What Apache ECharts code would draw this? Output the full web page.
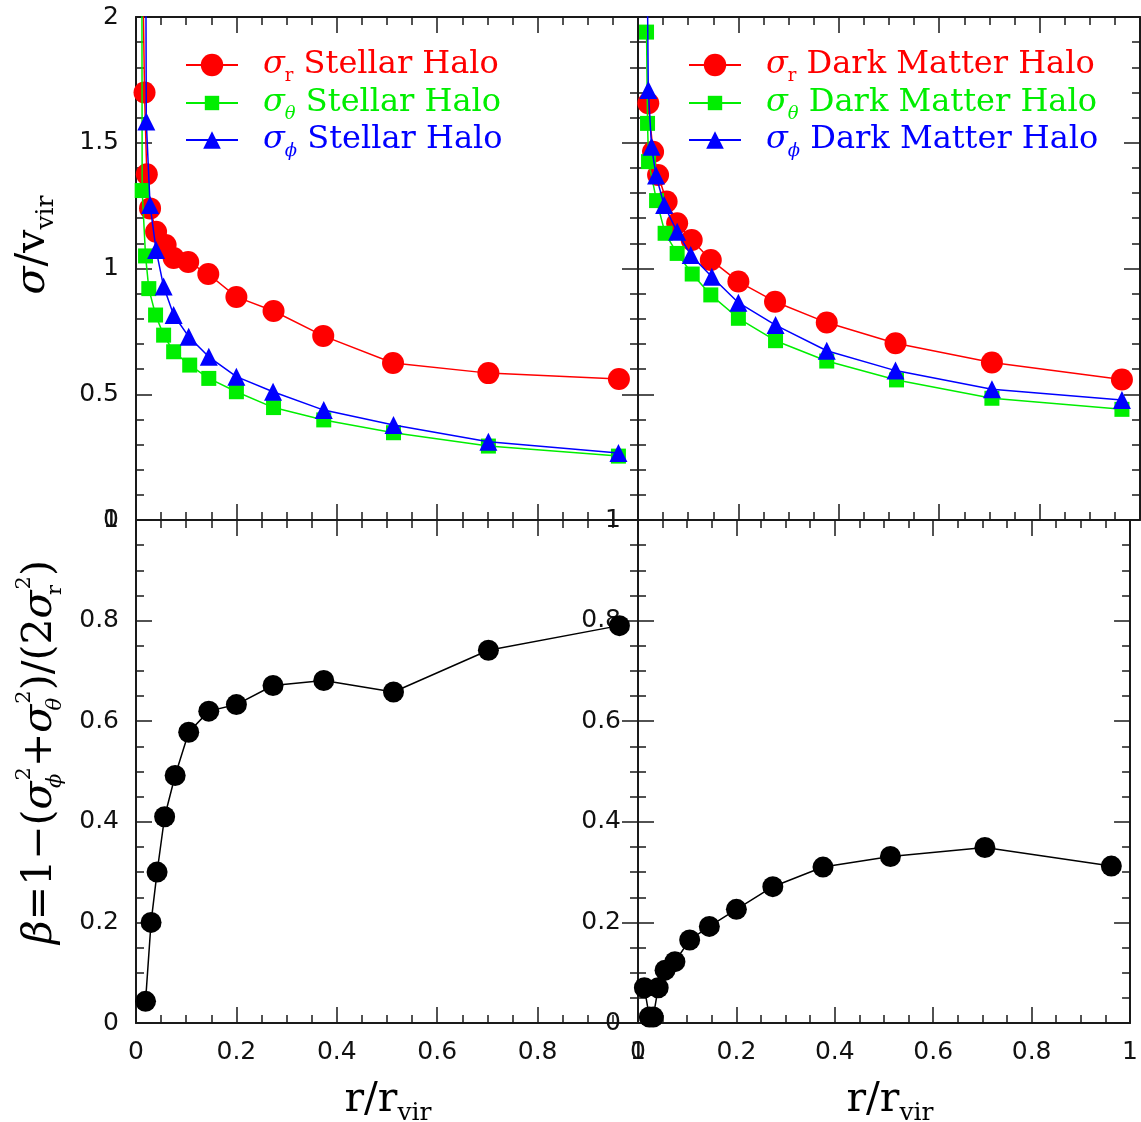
<!DOCTYPE html>
<html><head><meta charset="utf-8">
<script src="https://cdn.jsdelivr.net/npm/echarts@6/dist/echarts.min.js"></script>
<style>html,body{margin:0;padding:0;background:#fff}#c{width:1141px;height:1122px}</style>
</head><body><div id="c"></div>
<script>
// ---------- Data ----------
// Top-left: stellar halo velocity dispersions (sigma / v_vir)
const xStR  = [0.012, 0.017, 0.0215, 0.028, 0.040, 0.059, 0.075, 0.104, 0.144, 0.200, 0.274, 0.373, 0.512, 0.702, 0.962];
const stR   = [2.40, 1.70, 1.375, 1.239, 1.146, 1.093, 1.042, 1.026, 0.978, 0.887, 0.831, 0.732, 0.624, 0.584, 0.561];
const xStT  = [0.0115, 0.0123, 0.019, 0.0255, 0.039, 0.055, 0.075, 0.107, 0.145, 0.200, 0.274, 0.374, 0.513, 0.702, 0.961];
const stT   = [2.60, 1.31, 1.05, 0.92, 0.815, 0.735, 0.669, 0.616, 0.563, 0.510, 0.447, 0.398, 0.347, 0.294, 0.254];
const xStP  = [0.019, 0.0205, 0.028, 0.040, 0.055, 0.075, 0.105, 0.145, 0.200, 0.273, 0.374, 0.513, 0.702, 0.961];
const stP   = [2.60, 1.584, 1.252, 1.074, 0.928, 0.815, 0.729, 0.649, 0.570, 0.510, 0.437, 0.378, 0.311, 0.266];
// Top-right: dark matter halo velocity dispersions
const xDmR  = [0.0205, 0.030, 0.040, 0.057, 0.078, 0.107, 0.145, 0.200, 0.273, 0.376, 0.513, 0.705, 0.964];
const dmR   = [1.657, 1.464, 1.372, 1.266, 1.18, 1.113, 1.034, 0.948, 0.868, 0.785, 0.703, 0.626, 0.559];
const xDmT  = [0.017, 0.019, 0.021, 0.037, 0.054, 0.078, 0.108, 0.145, 0.200, 0.274, 0.376, 0.515, 0.705, 0.964];
const dmT   = [1.94, 1.577, 1.425, 1.27, 1.14, 1.06, 0.978, 0.895, 0.802, 0.713, 0.632, 0.557, 0.484, 0.440];
const xDmP  = [0.017, 0.0205, 0.027, 0.036, 0.052, 0.078, 0.105, 0.147, 0.200, 0.274, 0.376, 0.513, 0.705, 0.964];
const dmP   = [2.50, 1.71, 1.484, 1.37, 1.252, 1.146, 1.054, 0.967, 0.864, 0.775, 0.673, 0.594, 0.520, 0.477];
// Bottom: anisotropy beta
const xBetaSt = [0.019, 0.030, 0.042, 0.057, 0.078, 0.105, 0.145, 0.200, 0.273, 0.374, 0.513, 0.702, 0.963];
const betaSt  = [0.043, 0.200, 0.300, 0.410, 0.492, 0.578, 0.620, 0.633, 0.671, 0.681, 0.658, 0.741, 0.790];
const xBetaDm = [0.013, 0.023, 0.031, 0.041, 0.055, 0.075, 0.105, 0.145, 0.200, 0.274, 0.376, 0.513, 0.705, 0.962];
const betaDm  = [0.070, 0.012, 0.012, 0.070, 0.105, 0.122, 0.165, 0.192, 0.226, 0.271, 0.310, 0.331, 0.349, 0.312];
// Axis ranges / ticks
const xRange = [0, 1], xStep = 0.2;
const sigRange = [0, 2], sigStep = 0.5;
const betaRange = [0, 1], betaStep = 0.2;

// ---------- Helpers ----------
const pts = (xs, ys) => xs.map((x, i) => [x, ys[i]]);
const AX = '#1a1a1a';
const labelFont = {fontFamily: 'DejaVu Sans', fontSize: 25, color: '#111', margin: 17};

function axisCommon(min, max, step, minorSplit) {
  return {
    type: 'value', min, max, interval: step,
    axisLine: {show: true, onZero: false, lineStyle: {color: AX, width: 2}},
    axisTick: {show: true, inside: true, length: 16, lineStyle: {color: AX, width: 1.5}},
    minorTick: {show: true, splitNumber: minorSplit, length: 8, lineStyle: {color: AX, width: 1.5}},
    splitLine: {show: false}, minorSplitLine: {show: false}
  };
}
function mkX(grid, showLabel) {
  return [
    Object.assign(axisCommon(xRange[0], xRange[1], xStep, 4), {gridIndex: grid, position: 'bottom',
      axisLabel: Object.assign({show: showLabel, showMinLabel: true, showMaxLabel: true}, labelFont)}),
    Object.assign(axisCommon(xRange[0], xRange[1], xStep, 4), {gridIndex: grid, position: 'top', axisLabel: {show: false}})
  ];
}
function mkY(grid, range, step, minor, showLabel) {
  return [
    Object.assign(axisCommon(range[0], range[1], step, minor), {gridIndex: grid, position: 'left',
      axisLabel: Object.assign({show: showLabel, showMinLabel: true, showMaxLabel: true}, labelFont)}),
    Object.assign(axisCommon(range[0], range[1], step, minor), {gridIndex: grid, position: 'right', axisLabel: {show: false}})
  ];
}
function line(name, data, ax, color, symbol, size, z) {
  return {type: 'line', name, data, xAxisIndex: ax, yAxisIndex: ax, symbol, symbolSize: size,
    showSymbol: true, clip: true, z,
    itemStyle: {color}, lineStyle: {color, width: 1.5}, emphasis: {disabled: true}};
}
const RED = '#ff0000', GREEN = '#00ee00', BLUE = '#0000ff';
function legendItem(name, left, top, ih, color, sub, subItalic, label) {
  return {
    data: [name], left, top, padding: 0, itemWidth: 52, itemHeight: ih, selectedMode: false,
    formatter: () => '{g| }{s|σ}{b|' + sub + '}{t| ' + label + '}',
    textStyle: {color, rich: {
      g: {width: 20, fontSize: 30},
      s: {fontFamily: 'DejaVu Serif', fontStyle: 'italic', fontSize: 32, color, lineHeight: 40},
      b: {fontFamily: 'DejaVu Serif', fontStyle: subItalic ? 'italic' : 'normal', fontSize: 18, color, verticalAlign: 'bottom', lineHeight: 18},
      t: {fontFamily: 'DejaVu Serif', fontSize: 32, color, lineHeight: 40}
    }}
  };
}

const serif = 'DejaVu Serif';
const titleRich = {
  m: {fontFamily: serif, fontSize: 41, color: '#111', lineHeight: 52},
  mi: {fontFamily: serif, fontStyle: 'italic', fontSize: 41, color: '#111', lineHeight: 52},
  b: {fontFamily: serif, fontSize: 25, color: '#111', verticalAlign: 'bottom', lineHeight: 25},
  sb: {fontFamily: serif, fontStyle: 'italic', fontSize: 21, color: '#111', verticalAlign: 'bottom', lineHeight: 21, width: 1},
  sbr: {fontFamily: serif, fontSize: 21, color: '#111', verticalAlign: 'bottom', lineHeight: 21, width: 1},
  sp: {fontFamily: serif, fontSize: 21, color: '#111', verticalAlign: 'top', lineHeight: 21}
};

const option = {
  animation: false,
  backgroundColor: '#fff',
  grid: [
    {left: 136, top: 17, width: 502, height: 503},
    {left: 638, top: 17, width: 502, height: 503},
    {left: 136, top: 520, width: 502, height: 503},
    {left: 638, top: 520, width: 502, height: 503}
  ],
  xAxis: [...mkX(0, false), ...mkX(1, false), ...mkX(2, true), ...mkX(3, true)],
  yAxis: [...mkY(0, sigRange, sigStep, 5, true), ...mkY(1, sigRange, sigStep, 5, false),
          ...mkY(2, betaRange, betaStep, 4, true), ...mkY(3, betaRange, betaStep, 4, true)],
  legend: [
    legendItem('sr_st', 185, 49, 28, RED, 'r', false, 'Stellar Halo'),
    legendItem('st_st', 185, 87, 18, GREEN, 'θ', true, 'Stellar Halo'),
    legendItem('sp_st', 185, 124, 22, BLUE, 'ϕ', true, 'Stellar Halo'),
    legendItem('sr_dm', 688, 49, 28, RED, 'r', false, 'Dark Matter Halo'),
    legendItem('st_dm', 688, 87, 18, GREEN, 'θ', true, 'Dark Matter Halo'),
    legendItem('sp_dm', 688, 124, 22, BLUE, 'ϕ', true, 'Dark Matter Halo')
  ],
  series: [
    line('sr_st', pts(xStR, stR), 0, RED, 'circle', 22, 2),
    line('st_st', pts(xStT, stT), 0, GREEN, 'rect', 15, 3),
    line('sp_st', pts(xStP, stP), 0, BLUE, 'triangle', 18, 4),
    line('sr_dm', pts(xDmR, dmR), 2, RED, 'circle', 22, 2),
    line('st_dm', pts(xDmT, dmT), 2, GREEN, 'rect', 15, 3),
    line('sp_dm', pts(xDmP, dmP), 2, BLUE, 'triangle', 18, 4),
    line('beta_st', pts(xBetaSt, betaSt), 4, '#000', 'circle', 21, 2),
    line('beta_dm', pts(xBetaDm, betaDm), 6, '#000', 'circle', 21, 2)
  ],
  graphic: [
    {type: 'text', x: 33, y: 245, rotation: Math.PI / 2,
      style: {text: '{mi|σ}{m|/v}{b|vir}', rich: titleRich, align: 'center', verticalAlign: 'middle'}},
    {type: 'text', x: 40, y: 752, rotation: Math.PI / 2,
      style: {text: '{mi|β}{m|=1−(}{mi|σ}{sb|ϕ}{sp|2}{m|+}{mi|σ}{sb|θ}{sp|2}{m|)/(2}{mi|σ}{sbr|r}{sp|2}{m|)}',
        rich: titleRich, align: 'center', verticalAlign: 'middle'}},
    {type: 'text', x: 388, y: 1100,
      style: {text: '{m|r/r}{b|vir}', rich: titleRich, align: 'center', verticalAlign: 'middle'}},
    {type: 'text', x: 890, y: 1100,
      style: {text: '{m|r/r}{b|vir}', rich: titleRich, align: 'center', verticalAlign: 'middle'}}
  ]
};
const chart = echarts.init(document.getElementById('c'));
chart.setOption(option);
</script>
</body></html>
